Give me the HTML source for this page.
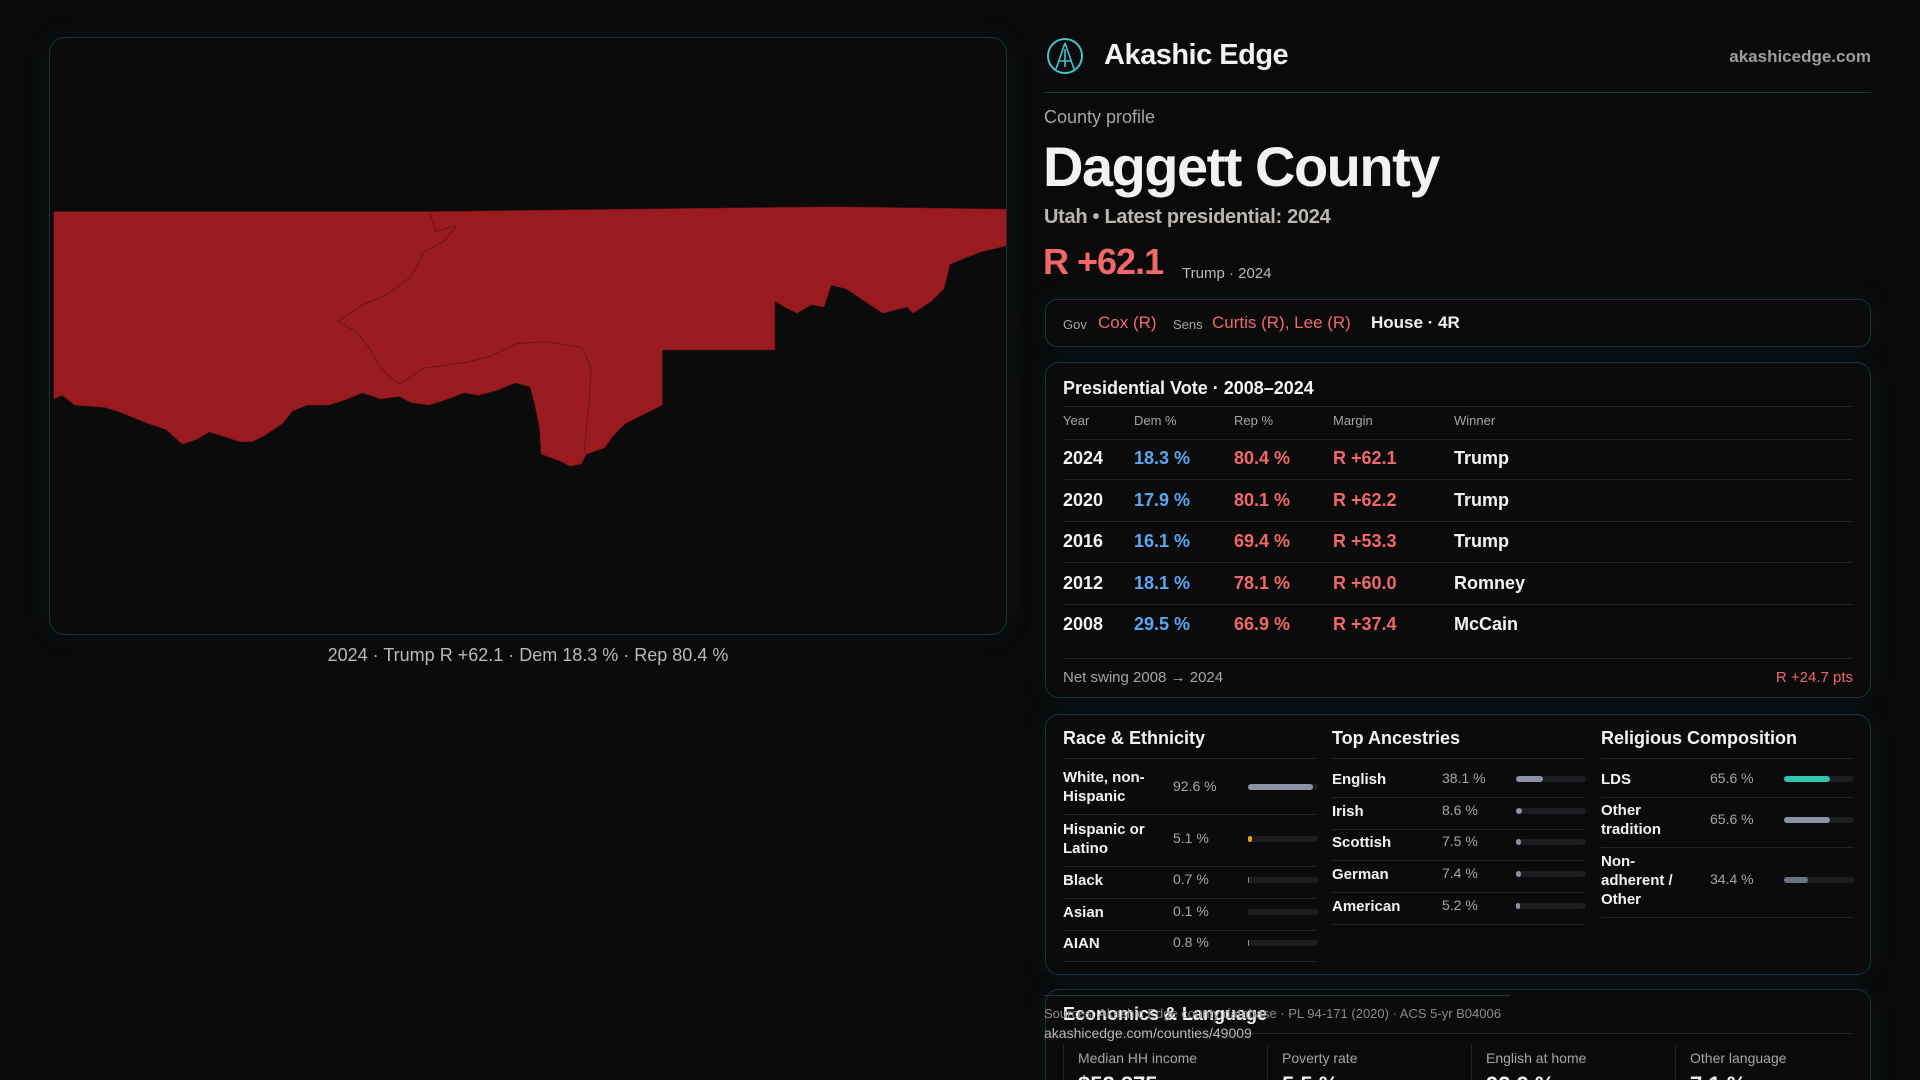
<!DOCTYPE html>
<html style="width:1920px;height:1080px;overflow:hidden"><head><meta charset="utf-8"><style>
*{box-sizing:border-box;margin:0;padding:0}
body{width:1920px;height:1080px;overflow:hidden;background:#0a0a0b;font-family:"Liberation Sans",sans-serif;color:#f2f2f2;position:relative}
.abs{position:absolute}
.panel{position:absolute;background:#0b0b0c;border:1px solid #14363c;border-radius:16px;box-shadow:0 0 24px rgba(20,70,80,0.18)}
.gray{color:#a8a4a0}
.red{color:#f06868}
.blue{color:#5aa6f2}
.hline{position:absolute;height:1px;background:#222426}
.t{position:absolute;white-space:nowrap}
</style></head><body>
<div class="panel" style="left:49px;top:37px;width:958px;height:598px">
<svg width="958" height="598" style="position:absolute;left:0;top:0">
<polygon id="shape" fill="#9a1b1f" stroke="#6a1215" stroke-width="0.5"/>
<polyline id="inner" fill="none" stroke="#5e1416" stroke-width="0.8"/>
</svg>
</div>
<div class="t gray" style="left:49px;width:958px;text-align:center;top:645px;font-size:18px;color:#bdb8b2">2024 · Trump R +62.1 · Dem 18.3 % · Rep 80.4 %</div>

<svg class="abs" style="left:1046px;top:37px" width="38" height="38"><circle cx="19" cy="19" r="17" fill="none" stroke="#3fc4d0" stroke-width="2"/><path d="M19 6 L10 32 M19 6 L28 32 M12 24 L26 24 M19 12 L19 30" stroke="#3fc4d0" stroke-width="1.6" fill="none"/></svg>
<div class="t" style="left:1104px;top:39px;font-size:29px;font-weight:bold;letter-spacing:-0.5px">Akashic Edge</div>
<div class="t gray" style="right:49px;top:47px;font-size:17px;font-weight:bold;color:#a09c98">akashicedge.com</div>
<div class="hline" style="left:1044px;width:827px;top:92px;background:#163a40"></div>
<div class="t gray" style="left:1044px;top:107px;font-size:18px">County profile</div>
<div class="t" style="left:1043px;top:134px;font-size:56px;font-weight:bold;letter-spacing:-1.5px">Daggett County</div>
<div class="t" style="left:1044px;top:206px;font-size:20px;font-weight:bold;color:#bbb6b0;letter-spacing:-0.3px">Utah • Latest presidential: 2024</div>
<div class="t red" style="left:1043px;top:241px;font-size:36px;font-weight:bold;letter-spacing:-1px">R +62.1</div>
<div class="t" style="left:1182px;top:265px;font-size:15px;color:#bdb8b2">Trump · 2024</div>

<div class="panel" style="left:1045px;top:299px;width:826px;height:48px;border-radius:12px">
<span class="t gray" style="left:17px;top:17px;font-size:13px">Gov</span>
<span class="t red" style="left:52px;top:13px;font-size:17px">Cox (R)</span>
<span class="t gray" style="left:127px;top:17px;font-size:13px">Sens</span>
<span class="t red" style="left:166px;top:13px;font-size:17px">Curtis (R), Lee (R)</span>
<span class="t" style="left:325px;top:13px;font-size:17px;font-weight:bold">House · 4R</span>
</div>

<div class="panel" id="pres" style="left:1045px;top:362px;width:826px;height:336px;border-radius:14px">
<div class="t" style="left:17px;top:15px;font-size:18px;font-weight:bold">Presidential Vote · 2008–2024</div>
<div class="hline" style="left:17px;right:17px;top:43px"></div>
<div class="hline" style="left:17px;right:17px;top:76px"></div>
<div class="hline" style="left:17px;right:17px;top:295px"></div>
<div class="t gray" style="left:17px;top:306px;font-size:15px">Net swing 2008 → 2024</div>
<div class="t red" style="right:17px;top:306px;font-size:15px">R +24.7 pts</div>
</div>

<div class="panel" id="demo" style="left:1045px;top:714px;width:826px;height:261px;border-radius:14px"></div>

<div class="panel" style="left:1045px;top:989px;width:826px;height:120px;border-radius:14px">
<div class="t" style="left:17px;top:14px;font-size:18px;font-weight:bold">Economics &amp; Language</div>
<div class="hline" style="left:17px;right:17px;top:43px"></div>
<div id="econ"></div>
</div>
<div class="hline" style="left:1044px;width:466px;top:995px;background:#163a40"></div>
<div class="t gray" style="left:1044px;top:1006px;font-size:13px;color:#8f8b87">Sources: Akashic Edge county database · PL 94-171 (2020) · ACS 5-yr B04006</div>
<div class="t gray" style="left:1044px;top:1025px;font-size:14px;color:#bdb8b2">akashicedge.com/counties/49009</div>

<script>
const years=["2024","2020","2016","2012","2008"];
const demPct=[18.3,17.9,16.1,18.1,29.5];
const repPct=[80.4,80.1,69.4,78.1,66.9];
const winners=["Trump","Trump","Trump","Romney","McCain"];
const raceLabels=["White, non-Hispanic","Hispanic or Latino","Black","Asian","AIAN"];
const raceVals=[92.6,5.1,0.7,0.1,0.8];
const ancLabels=["English","Irish","Scottish","German","American"];
const ancVals=[38.1,8.6,7.5,7.4,5.2];
const relLabels=["LDS","Other tradition","Non-adherent / Other"];
const relVals=[65.6,65.6,34.4];
const econLabels=["Median HH income","Poverty rate","English at home","Other language"];
const econVals=["$58,875","5.5 %","92.9 %","7.1 %"];
const mapPts=[[43,172],[350,172],[680,168],[821,170],[821,200],[800,205],[775,215],[770,235],[760,245],[745,255],[740,250],[720,255],[705,245],[690,235],[678,232],[672,250],[662,248],[650,255],[640,250],[632,245],[632,285],[540,285],[540,330],[510,345],[500,355],[493,365],[478,370],[474,378],[465,380],[455,375],[441,370],[440,350],[436,330],[432,315],[420,312],[405,318],[390,322],[378,320],[365,325],[350,330],[335,328],[325,323],[310,325],[295,320],[283,325],[268,330],[250,330],[238,335],[230,345],[215,355],[205,360],[195,360],[180,355],[170,352],[160,358],[148,362],[135,350],[120,345],[95,335],[85,332],[60,330],[50,322],[43,325]];
const innerPts=[[350,172],[355,188],[372,184],[362,196],[345,205],[335,225],[315,240],[295,248],[275,262],[290,270],[300,282],[310,300],[325,313],[345,300],[380,295],[400,290],[420,280],[445,278],[475,283],[482,300],[480,330],[476,370]];
const S=1920/1568;
const pt=a=>a.map(p=>((p[0]*S-49).toFixed(1))+','+((p[1]*S-37).toFixed(1))).join(' ');
document.getElementById('shape').setAttribute('points',pt(mapPts));
document.getElementById('inner').setAttribute('points',pt(innerPts));

function mk(parent,cls,style,text){const e=document.createElement('div');e.className=cls;e.style.cssText=style;if(text!==undefined)e.textContent=text;parent.appendChild(e);return e;}
const pres=document.getElementById('pres');
const hdrs=["Year","Dem %","Rep %","Margin","Winner"];const cx=[17,88,188,287,408];
hdrs.forEach((h,i)=>{const e=mk(pres,'t gray','left:'+cx[i]+'px;top:50px;font-size:13px',h);

});
years.forEach((y,i)=>{const top=85+i*41.6;
const m=(repPct[i]-demPct[i]).toFixed(1);
const vals=[y,demPct[i].toFixed(1)+' %',repPct[i].toFixed(1)+' %','R +'+m,winners[i]];
const cls=['t','t blue','t red','t red','t'];
vals.forEach((v,j)=>{const e=mk(pres,cls[j],'left:'+cx[j]+'px;top:'+top+'px;font-size:18px;font-weight:bold',v);

});
if(i<4)mk(pres,'hline','left:17px;right:17px;top:'+(top+31)+'px');});

const demo=document.getElementById('demo');
function col(x,title,labels,vals,rowTops,valX,barX,colors,lh){
const tt=mk(demo,'t','left:'+x+'px;top:13px;font-size:18px;font-weight:bold',title);


mk(demo,'hline','left:'+x+'px;width:253px;top:43px');
labels.forEach((l,i)=>{const c=rowTops[i];
const le=mk(demo,'t','left:'+x+'px;top:'+(c-lh[i]/2)+'px;font-size:15px;font-weight:bold;white-space:normal;width:90px;line-height:19px',l);


const ve=mk(demo,'t gray','left:'+valX+'px;top:'+(c-9)+'px;font-size:14px',vals[i].toFixed(1)+' %');


const tr=mk(demo,'abs','left:'+barX+'px;top:'+(c-3)+'px;width:70px;height:6px;border-radius:3px;background:#1c1d20');


const f=mk(tr,'abs','left:0;top:0;height:6px;border-radius:3px;width:'+(vals[i]/100*70)+'px;background:'+colors[i]);


mk(demo,'hline','left:'+x+'px;width:253px;top:'+(c+(lh[i]/2)+8)+'px');});}
col(17,"Race & Ethnicity",raceLabels,raceVals,[72,124,165,197,228],127,202,["#8b93a3","#e8a21a","#8b93a3","#8b93a3","#8b93a3"],[38,38,19,19,19]);
col(286,"Top Ancestries",ancLabels,ancVals,[64,96,127,159,191],396,470,["#8b93a3","#8b93a3","#8b93a3","#8b93a3","#8b93a3"],[19,19,19,19,19]);
col(555,"Religious Composition",relLabels,relVals,[64,105,165],664,738,["#2ec4b0","#8b93a3","#6c7280"],[19,38,57]);

const econ=document.getElementById('econ');
econLabels.forEach((l,i)=>{const x=17+i*204;
mk(econ,'abs','left:'+x+'px;top:54px;width:1px;height:70px;background:#222426');
const le=mk(econ,'t gray','left:'+(x+15)+'px;top:60px;font-size:14px',l);


const ve=mk(econ,'t','left:'+(x+15)+'px;top:82px;font-size:22px;font-weight:bold',econVals[i]);

});
</script>
</body></html>
